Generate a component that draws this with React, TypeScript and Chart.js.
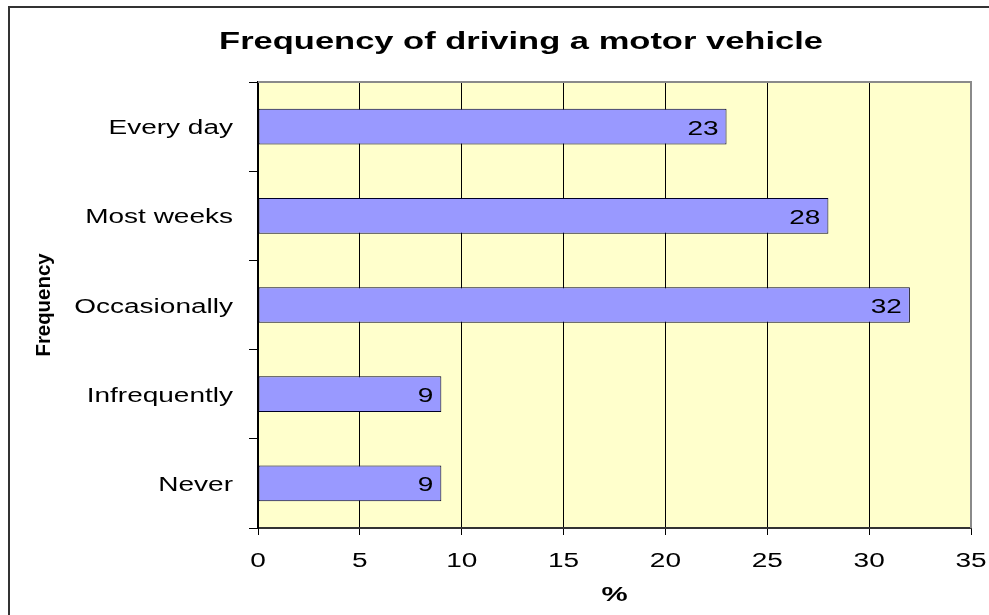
import React, { useEffect, useRef } from "react";
import { Chart, registerables } from "chart.js";

Chart.register(...registerables);

const chartTitle = "Frequency of driving a motor vehicle";
const categories = ["Every day", "Most weeks", "Occasionally", "Infrequently", "Never"];
const percentValues = [23, 28, 32, 9, 9];
const xAxisTitle = "%";
const yAxisTitle = "Frequency";
const xMin = 0;
const xMax = 35;
const xStep = 5;

const FONT = "'Liberation Sans', Arial, sans-serif";
const SX = 1.4;

function stretchText(
  ctx: CanvasRenderingContext2D,
  text: string,
  x: number,
  y: number,
  align: CanvasTextAlign,
  font: string,
  sx: number,
  rotate = 0,
  sy = 1
) {
  ctx.save();
  ctx.translate(x, y);
  if (rotate) ctx.rotate(rotate);
  ctx.scale(sx, sy);
  ctx.font = font;
  ctx.fillStyle = "#000";
  ctx.textAlign = align;
  ctx.textBaseline = "alphabetic";
  ctx.fillText(text, 0, 0);
  ctx.restore();
}

const decorPlugin = {
  id: "decor",
  beforeDraw(chart: any) {
    const { ctx, chartArea: a } = chart;
    ctx.save();
    ctx.fillStyle = "#ffffff";
    ctx.fillRect(0, 0, chart.width, chart.height);
    ctx.fillStyle = "#FFFFCC";
    ctx.fillRect(a.left, a.top, a.right - a.left, a.bottom - a.top);
    // outer chart border (top and left visible)
    ctx.strokeStyle = "#333";
    ctx.lineWidth = 2;
    ctx.beginPath();
    ctx.moveTo(9, chart.height + 5);
    ctx.lineTo(9, 7);
    ctx.lineTo(chart.width + 5, 7);
    ctx.stroke();
    ctx.restore();
  },
  beforeDatasetsDraw(chart: any) {
    const { ctx, chartArea: a } = chart;
    ctx.save();
    ctx.strokeStyle = "#8a8a8a";
    ctx.lineWidth = 2;
    ctx.beginPath();
    ctx.moveTo(a.left, a.top);
    ctx.lineTo(a.right, a.top);
    ctx.lineTo(a.right, a.bottom);
    ctx.stroke();
    ctx.restore();
  },
  afterDraw(chart: any) {
    const { ctx, chartArea: a } = chart;
    const xs = chart.scales.x;
    const ys = chart.scales.y;
    const tickFont = `20px ${FONT}`;
    // x tick labels
    xs.ticks.forEach((t: any) => {
      const px = xs.getPixelForValue(t.value);
      stretchText(ctx, String(t.value), px, 567, "center", tickFont, SX);
    });
    // y tick labels
    categories.forEach((c, i) => {
      const py = ys.getPixelForValue(i);
      stretchText(ctx, c, 233, py + 7.5, "right", tickFont, SX);
    });
    // data labels
    const meta = chart.getDatasetMeta(0);
    meta.data.forEach((bar: any, i: number) => {
      stretchText(ctx, String(percentValues[i]), bar.x - 8, bar.y + 8, "right", tickFont, SX);
    });
    // chart title
    stretchText(ctx, chartTitle, 521, 49, "center", `bold 23px ${FONT}`, 1.5);
    // x axis title
    stretchText(ctx, xAxisTitle, (a.left + a.right) / 2, 601, "center", `bold 21px ${FONT}`, SX);
    // y axis title (rotated)
    stretchText(ctx, yAxisTitle, 50, (a.top + a.bottom) / 2, "center", `bold 17px ${FONT}`, 1.2, -Math.PI / 2, 1.15);
  },
};

export default function App() {
  const ref = useRef<HTMLCanvasElement | null>(null);
  useEffect(() => {
    document.body.style.margin = "0";
    const canvas = ref.current!;
    const chart = new Chart(canvas, {
      type: "bar",
      data: {
        labels: categories,
        datasets: [
          {
            data: percentValues,
            backgroundColor: "#9999FF",
            borderColor: "#000022",
            borderWidth: 1,
            borderSkipped: false,
            barPercentage: 0.4,
            categoryPercentage: 1,
          },
        ],
      },
      options: {
        responsive: false,
        animation: false,
        indexAxis: "y",
        layout: { padding: { left: 0, top: 82, right: 18, bottom: 0 } },
        plugins: {
          legend: { display: false },
          tooltip: { enabled: false },
          title: { display: false },
        },
        scales: {
          x: {
            type: "linear",
            min: xMin,
            max: xMax,
            ticks: { stepSize: xStep, color: "rgba(0,0,0,0)", font: { size: 20 } },
            grid: { color: "#000", lineWidth: 1, tickLength: 7, tickColor: "#000" },
            border: { color: "#333", width: 2 },
            afterFit(s: any) {
              s.height = 87;
            },
          },
          y: {
            type: "category",
            grid: { offset: true, drawOnChartArea: false, tickLength: 9, color: "#000", tickColor: "#000" },
            border: { color: "#000", width: 2 },
            ticks: { color: "rgba(0,0,0,0)", font: { size: 20 } },
            afterFit(s: any) {
              s.width = 258;
            },
          },
        },
      },
      plugins: [decorPlugin],
    } as any);
    return () => chart.destroy();
  }, []);
  return (
    <div style={{ position: "absolute", left: 0, top: 0, width: 989, height: 615 }}>
      <canvas ref={ref} width={989} height={615} style={{ width: 989, height: 615, display: "block" }} />
    </div>
  );
}
